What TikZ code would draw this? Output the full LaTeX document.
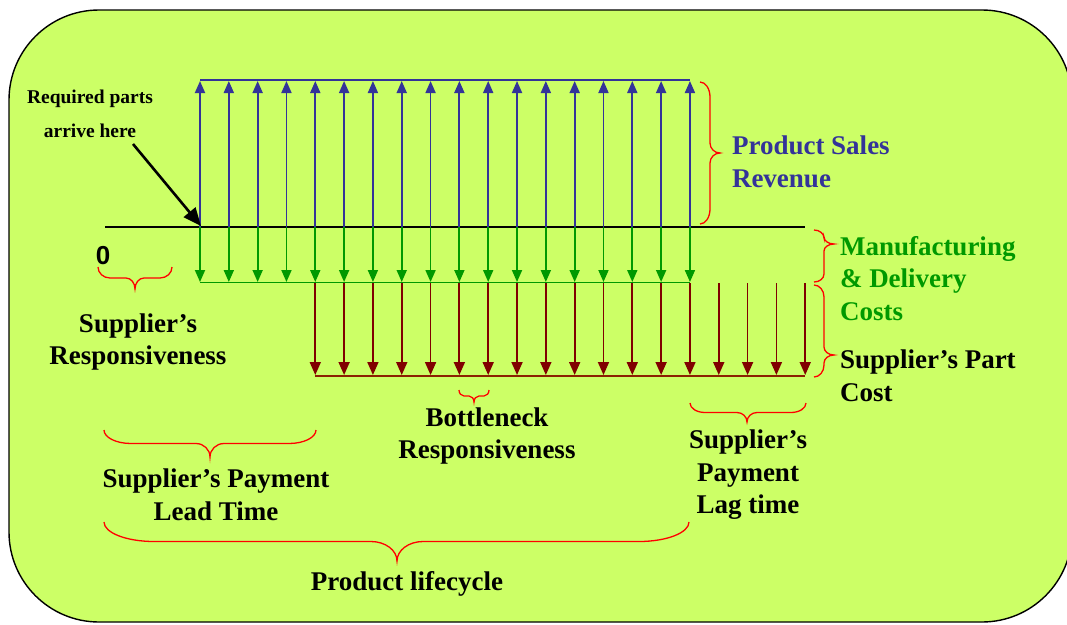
\documentclass[tikz,border=0pt]{standalone}
\usepackage{fontspec}
\setmainfont{Liberation Serif}
\newfontfamily\digitfont{Liberation Sans}
\usetikzlibrary{arrows.meta}
\definecolor{panelfill}{HTML}{CCFF66}
\definecolor{revblue}{HTML}{333399}
\definecolor{mfggreen}{HTML}{009900}
\definecolor{costred}{HTML}{800000}
\definecolor{costline}{HTML}{8B2200}
\definecolor{bracered}{HTML}{FF0000}

% Curly brace opening upward, tip pointing down.
% #1 left x, #2 right x, #3 y of the ends, #4 y of the tip, #5 x of the tip,
% #6 length of the end curls, #7 length of the tip curls
\newcommand\downbrace[7]{%
  \draw[bracebar] (#1,#3)
    .. controls (#1,{#3+0.552*(#4-#3)/2}) and ({#1+0.448*#6},{(#3+#4)/2}) .. ({#1+#6},{(#3+#4)/2})
    -- ({#5-#7},{(#3+#4)/2})
    .. controls ({#5-0.448*#7},{(#3+#4)/2}) and (#5,{#4-0.552*(#4-#3)/2}) .. (#5,#4)
    .. controls (#5,{#4-0.552*(#4-#3)/2}) and ({#5+0.448*#7},{(#3+#4)/2}) .. ({#5+#7},{(#3+#4)/2})
    -- ({#2-#6},{(#3+#4)/2})
    .. controls ({#2-0.448*#6},{(#3+#4)/2}) and (#2,{#3+0.552*(#4-#3)/2}) .. (#2,#3);}

% Curly brace opening leftward, tip pointing right.
% #1 top y, #2 bottom y, #3 x of the ends, #4 x of the tip, #5 y of the tip,
% #6 length of the end curls, #7 length of the tip curls
\newcommand\rightbrace[7]{%
  \draw[bracebar] (#3,#1)
    .. controls ({#3+0.552*(#4-#3)/2},#1) and ({(#3+#4)/2},{#1+0.448*#6}) .. ({(#3+#4)/2},{#1+#6})
    -- ({(#3+#4)/2},{#5-#7})
    .. controls ({(#3+#4)/2},{#5-0.448*#7}) and ({#4-0.552*(#4-#3)/2},#5) .. (#4,#5)
    .. controls ({#4-0.552*(#4-#3)/2},#5) and ({(#3+#4)/2},{#5+0.448*#7}) .. ({(#3+#4)/2},{#5+#7})
    -- ({(#3+#4)/2},{#2-#6})
    .. controls ({(#3+#4)/2},{#2-0.448*#6}) and ({#3+0.552*(#4-#3)/2},#2) .. (#3,#2);}

\begin{document}
\begin{tikzpicture}[x=1pt,y=-1pt,
  every node/.style={inner sep=0pt,outer sep=0pt},
  bigtext/.style={font=\fontsize{27}{32.5}\selectfont\bfseries,align=center},
  smalltext/.style={font=\fontsize{19.5}{34}\selectfont\bfseries,align=center},
  bracebar/.style={line width=1.3pt,bracered},
  axisline/.style={line width=1.3pt,black},
  revup/.style={revblue,line width=1.8pt,-{Triangle[width=10pt,length=12pt]}},
  mfgdown/.style={mfggreen,line width=1.8pt,-{Triangle[width=10pt,length=12pt]}},
  costdown/.style={costred,line width=1.8pt,-{Triangle[width=11pt,length=13pt]}},
  pointer/.style={black,line width=2.6pt,-{Triangle[width=15pt,length=18pt]}}]

\useasboundingbox (0,0) rectangle (1067,624);

% rounded panel
\draw[fill=panelfill,line width=1.4pt,rounded corners=90pt] (9,10) rectangle (1072,622);

% time axis
\coordinate (axisL) at (105,227);
\coordinate (axisR) at (805,227);
\draw[axisline] (axisL) -- (axisR);

% revenue (up) and manufacturing cost (down) cash flows
\foreach \i in {0,...,17}{
  \pgfmathsetmacro\xx{200+28.82*\i}
  \coordinate (base\i) at (\xx,227);
  \coordinate (rev\i) at (\xx,81);
  \coordinate (mfg\i) at (\xx,282);
  \draw[revup] (base\i) -- (rev\i);
  \draw[mfgdown] (base\i) -- (mfg\i);
}
\draw[revblue,line width=2.2pt] (200,80) -- (690,80);
\draw[mfggreen,line width=1.8pt] (200,282.5) -- (690,282.5);

% supplier part cost (down), delayed by the payment lead time
\foreach \i in {4,...,21}{
  \pgfmathsetmacro\xx{200+28.82*\i}
  \coordinate (ctop\i) at (\xx,283);
  \coordinate (cbot\i) at (\xx,375);
  \draw[costdown] (ctop\i) -- (cbot\i);
}
\draw[costline,line width=2pt] (315.3,375.5) -- (804.6,375.5);

% labels
\node[smalltext] (req) at (90,114) {Required parts\\arrive here};
\coordinate (ptrstart) at (133,144);
\coordinate (ptrend) at (201,226);
\draw[pointer] (ptrstart) -- (ptrend);

\node[font=\digitfont\bfseries\fontsize{26}{26}\selectfont] (zero) at (103,256) {0};

\node[bigtext] (resp) at (138,342) {Supplier’s\\Responsiveness};
\node[bigtext,align=left,anchor=west,text=revblue] (sales) at (732,162) {Product Sales\\Revenue};
\node[bigtext,align=left,anchor=west,text=mfggreen] (mfg) at (840,278.5) {Manufacturing\\\& Delivery\\Costs};
\node[bigtext,align=left,anchor=west] (part) at (840,376) {Supplier’s Part\\Cost};
\node[bigtext] (bottle) at (487,436) {Bottleneck\\Responsiveness};
\node[bigtext] (lag) at (748,475) {Supplier’s\\Payment\\Lag time};
\node[bigtext] (lead) at (216,495) {Supplier’s Payment\\Lead Time};
\node[bigtext] (life) at (407,584) {Product lifecycle};

% braces
\downbrace{98}{172}{267}{289}{135}{12}{9}
\downbrace{459}{489}{390}{402}{474}{5}{5}
\downbrace{690}{806}{403}{422}{747}{15}{10}
\downbrace{104}{316}{430}{457}{210}{27}{14}
\downbrace{104}{689}{522}{561}{397}{50}{26}
\rightbrace{82}{224}{700}{720}{153}{15}{10}
\rightbrace{230}{282}{814}{834}{244}{8}{7}
\rightbrace{285}{377}{814}{834}{355}{12}{8}

\end{tikzpicture}
\end{document}
